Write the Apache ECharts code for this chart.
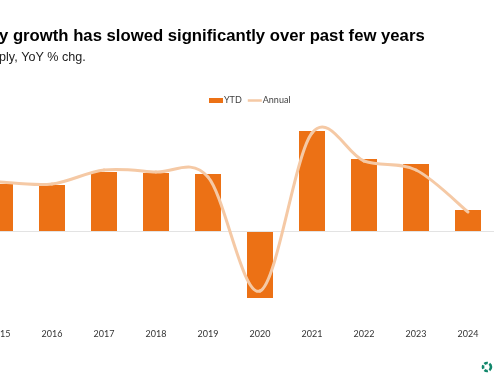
<!DOCTYPE html>
<html>
<head>
<meta charset="utf-8">
<style>html,body{margin:0;padding:0;background:#fff}#chart{width:496px;height:380px}</style>
<script src="https://cdn.jsdelivr.net/npm/echarts@6/dist/echarts.min.js"></script>
</head>
<body>
<div id="chart"></div>
<script>
const years = ['2015', '2016', '2017', '2018', '2019', '2020', '2021', '2022', '2023', '2024'];
// no value axis in the source, so values are read in relative units (zero line = 0)
const ytd = [47, 46, 59, 58, 57, -67, 100, 72, 67, 21];
const annual = [49, 47, 61, 59, 54, -60, 98, 70, 61, 19];

const barColor = '#ec7115';
const lineColor = '#f5c9a5';
const legendLineIcon = 'path://M0,0 L0.01,0 Z M0,5 L0.01,5 Z M0,1.2 H15 V3.8 H0 Z';

// Excel style smoothing, it overshoots the points which the line series smooth does not
function renderAnnualSegment(params, api) {
    const i = params.dataIndex;
    if (i >= annual.length - 1) {
        return null;
    }
    const pt = (n) => {
        const k = Math.max(0, Math.min(annual.length - 1, n));
        return api.coord([k, annual[k]]);
    };
    const p0 = pt(i - 1);
    const p1 = pt(i);
    const p2 = pt(i + 1);
    const p3 = pt(i + 2);
    return {
        type: 'bezierCurve',
        shape: {
            x1: p1[0],
            y1: p1[1],
            cpx1: p1[0] + (p2[0] - p0[0]) / 6,
            cpy1: p1[1] + (p2[1] - p0[1]) / 6,
            cpx2: p2[0] - (p3[0] - p1[0]) / 6,
            cpy2: p2[1] - (p3[1] - p1[1]) / 6,
            x2: p2[0],
            y2: p2[1]
        },
        style: { fill: 'none', stroke: lineColor, lineWidth: 3, lineCap: 'round' }
    };
}

const chart = echarts.init(document.getElementById('chart'), null, { renderer: 'canvas' });
chart.setOption({
    animation: false,
    backgroundColor: '#fff',
    title: {
        text: 'y growth has slowed significantly over past few years',
        subtext: 'ply, YoY % chg.',
        left: -1,
        top: 28,
        padding: 0,
        itemGap: 6,
        textStyle: { fontFamily: 'Liberation Sans', fontSize: 16.7, fontWeight: 'bold', color: '#000' },
        subtextStyle: { fontFamily: 'Liberation Sans', fontSize: 12.6, color: '#222' }
    },
    legend: {
        top: 96,
        left: 209,
        padding: 0,
        itemWidth: 14,
        itemHeight: 5,
        itemGap: 6,
        textStyle: { fontFamily: 'Lato', fontSize: 9, color: '#404040', padding: [0, 0, 0, -4] },
        data: [
            { name: 'YTD', icon: 'rect' },
            { name: 'Annual', icon: legendLineIcon }
        ]
    },
    grid: { left: -26, right: 2, top: 106, height: 220, outerBoundsMode: 'none' },
    xAxis: {
        type: 'category',
        data: years,
        axisLine: { show: false, onZero: false },
        axisTick: { show: false },
        axisLabel: { fontFamily: 'Lato', fontSize: 9, color: '#333', margin: 4, interval: 0 }
    },
    yAxis: { type: 'value', min: -95, max: 125, show: false, splitLine: { show: false } },
    series: [
        {
            name: 'YTD',
            type: 'bar',
            data: ytd,
            barWidth: '50%',
            itemStyle: { color: barColor },
            markLine: {
                silent: true,
                symbol: 'none',
                label: { show: false },
                lineStyle: { color: '#e3e3e3', width: 1, type: 'solid' },
                data: [{ yAxis: 0 }]
            }
        },
        {
            name: 'Annual',
            type: 'custom',
            data: annual,
            encode: { x: 0, y: 1 },
            clip: false,
            itemStyle: { color: lineColor },
            renderItem: renderAnnualSegment,
            z: 5
        }
    ],
    graphic: [
        {
            type: 'circle',
            shape: { cx: 487, cy: 367, r: 4 },
            style: { fill: 'none', stroke: '#11876b', lineWidth: 2.6, lineDash: [3.6, 1.6] }
        }
    ]
});
</script>
</body>
</html>
